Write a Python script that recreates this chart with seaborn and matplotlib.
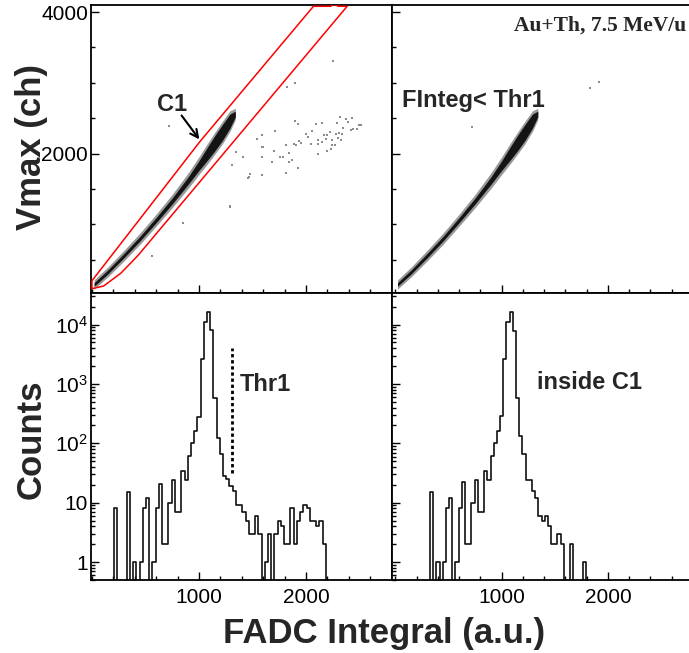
import numpy as np
import pandas as pd
import matplotlib
matplotlib.use("Agg")
import matplotlib.pyplot as plt
import seaborn as sns
from matplotlib.ticker import FixedLocator, FixedFormatter, MultipleLocator, NullFormatter

# ---------------- data ----------------
bin_start = 25
bin_width = 30
counts_all = [0, 0, 0, 0, 0, 0, 8, 0, 0, 0, 15, 0, 1, 0, 1, 8, 12, 0, 1, 8,
              21, 2, 2, 10, 24, 7, 7, 34, 24, 62, 100, 163, 278, 2600, 11200, 16500, 8000, 580, 125, 65,
              28, 25, 19, 16, 9, 9, 7, 5, 3, 3, 6, 3, 0, 1, 3, 0, 3, 5, 4, 2,
              2, 8, 2, 5, 7, 9, 8, 5, 5, 4, 5, 2, 0]
counts_c1 = [0, 0, 0, 0, 0, 0, 0, 0, 0, 0, 15, 0, 1, 0, 1, 8, 12, 0, 1, 8,
             22, 2, 2, 10, 24, 7, 7, 34, 24, 62, 100, 160, 290, 2600, 11000, 16500, 7800, 585, 132, 65,
             24, 24, 16, 12, 6, 5, 6, 4, 2, 2, 3, 2, 0, 0, 2, 0, 0, 0, 1, 0]

# dense band of events (FADC integral vs Vmax)
band_x = [20, 150, 300, 450, 600, 750, 900, 1000, 1080, 1150, 1220, 1290, 1340]
band_mid = [150, 330, 560, 800, 1060, 1330, 1620, 1830, 2000, 2150, 2300, 2460, 2560]
band_outer = [65, 70, 75, 80, 85, 95, 110, 125, 145, 155, 160, 145, 80]
band_core = [25, 28, 30, 32, 36, 42, 52, 68, 92, 108, 112, 98, 40]

# graphical cut C1
contour_x = [2070, 1009, 0, 0, 110, 270, 430, 2385, 2300, 2265, 2230, 2070]
contour_y = [4082, 2170, 203, 90, 130, 310, 560, 4082, 4082, 4110, 4082, 4082]

# isolated events
stray_all_x = [1893, 1921, 1715, 1593, 1547, 1603, 1697, 1687, 1590, 1481, 1462, 1593, 1410, 1347, 1312,
               1815, 1865, 1843, 1759, 1784, 1840, 1925, 1809, 1884, 1903, 1931, 1950, 1997, 2015, 2053,
               2043, 2109, 2115, 2109, 2150, 2150, 2097, 2169, 2197, 2190, 2221, 2244, 2277, 2275, 2287,
               2312, 2337, 2303, 2324, 2197, 2237, 2246, 2343, 2321, 2378, 2390, 2431, 2421, 2437, 2493,
               2512, 2478, 1291, 2253, 1893, 1822, 847, 557, 719, 1287, 1469, 1588]
stray_all_y = [2466, 2415, 2316, 2268, 2203, 2090, 2042, 1879, 1949, 1709, 1662, 1695, 1958, 2019, 1840,
               1728, 1906, 1883, 1949, 1949, 2005, 1794, 2127, 2137, 2123, 2184, 2146, 2274, 2231, 2325,
               2132, 2137, 1996, 2189, 2161, 2433, 2415, 2260, 2260, 2212, 2311, 2193, 2283, 2123, 2433,
               2288, 2274, 2217, 2189, 2042, 2062, 2123, 2363, 2513, 2485, 2447, 2499, 2334, 2348, 2400,
               2400, 2348, 1252, 3304, 2994, 2937, 1026, 556, 2391, 1262, 1675, 2099]
stray_cut_x = [1831, 1920, 718]
stray_cut_y = [2923, 3016, 2381]

thr1_x = 1306
thr1_span = [32, 4000]

xticks_major = [1000, 2000]
vmax_ticks = [2000, 4000]
count_ticks = [1, 10, 100, 1000, 10000]
count_labels = ["1", "10", "$10^{2}$", "$10^{3}$", "$10^{4}$"]

# ---------------- style ----------------
sns.set_theme(style="ticks")
plt.rcParams["font.family"] = ["Liberation Sans", "DejaVu Sans"]
plt.rcParams["mathtext.default"] = "regular"
plt.rcParams["axes.edgecolor"] = "black"
plt.rcParams["axes.linewidth"] = 1.3

W, H = 689, 653
fig = plt.figure(figsize=(W / 100, H / 100), dpi=100)


def rect(l, t, r, b):
    return [l / W, 1 - b / H, (r - l) / W, (b - t) / H]


ax_tl = fig.add_axes(rect(91, 5, 392, 293))
ax_tr = fig.add_axes(rect(392, 5, 690, 293))
ax_bl = fig.add_axes(rect(91, 293, 392, 580))
ax_br = fig.add_axes(rect(392, 293, 690, 580))

n_bins = max(len(counts_all), len(counts_c1))
edges = [bin_start + bin_width * i for i in range(n_bins + 1)]


def draw_hist(ax, counts):
    e = edges[: len(counts) + 1]
    centers = [0.5 * (e[i] + e[i + 1]) for i in range(len(counts))]
    df = pd.DataFrame({"x": centers, "w": [float(c) for c in counts]})
    sns.histplot(data=df, x="x", weights="w", bins=len(counts), binrange=(e[0], e[-1]),
                 element="step", fill=False, color="#111111", linewidth=1.2, ax=ax)
    ax.set_yscale("log", nonpositive="clip")
    ax.set_ylim(0.5, 3.4e4)


def draw_band(ax):
    bx = np.asarray(band_x, float)
    bm = np.asarray(band_mid, float)
    bo = np.asarray(band_outer, float)
    bc = np.asarray(band_core, float)
    ax.fill_between(bx, bm - bo, bm + bo, color="0.6", lw=0, zorder=2)
    ax.fill_between(bx, bm - bc, bm + bc, color="0.08", lw=0, zorder=3)


# top-left: all events with cut
draw_band(ax_tl)
sns.scatterplot(x=stray_all_x, y=stray_all_y, ax=ax_tl, s=1.6, color="0.55", linewidth=0, marker="s", zorder=2)
ax_tl.plot(contour_x, contour_y, color="red", lw=1.1, zorder=4, clip_on=True)
ax_tl.text(605, 2600, "C1", fontsize=17, fontweight="bold", ha="left", va="baseline")
ax_tl.annotate("", xy=(1019, 2170), xytext=(822, 2570),
               arrowprops=dict(arrowstyle="->", color="black", lw=1.5, mutation_scale=14))

# top-right: FInteg < Thr1
draw_band(ax_tr)
sns.scatterplot(x=stray_cut_x, y=stray_cut_y, ax=ax_tr, s=1.6, color="0.55", linewidth=0, marker="s", zorder=2)
ax_tr.text(59, 2663, "FInteg< Thr1", fontsize=17, fontweight="bold", ha="left", va="baseline")
ax_tr.text(2740, 3740, "Au+Th, 7.5 MeV/u", fontsize=15.5, fontweight="bold",
           family=["Liberation Serif", "DejaVu Serif"], ha="right", va="baseline")

# bottom: histograms
draw_hist(ax_bl, counts_all)
draw_hist(ax_br, counts_c1)
ax_bl.plot([thr1_x, thr1_x], thr1_span, color="black", lw=2.0, ls=(0, (1.2, 1.0)))
ax_bl.text(1383, 760, "Thr1", fontsize=17, fontweight="bold", ha="left", va="baseline")
ax_br.text(1329, 810, "inside C1", fontsize=17, fontweight="bold", ha="left", va="baseline")

# ---------------- axes ----------------
for ax in (ax_tl, ax_bl):
    ax.set_xlim(-9, 2804)
for ax in (ax_tr, ax_br):
    ax.set_xlim(-32, 2772)
for ax in (ax_tl, ax_tr):
    ax.set_ylim(30, 4100)
    ax.yaxis.set_major_locator(FixedLocator(vmax_ticks))
    ax.yaxis.set_minor_locator(MultipleLocator(500))

for ax in (ax_tl, ax_tr, ax_bl, ax_br):
    ax.xaxis.set_major_locator(FixedLocator(xticks_major))
    ax.xaxis.set_minor_locator(MultipleLocator(200))
    ax.tick_params(which="both", direction="in", top=False, right=False, width=1.0, colors="black",
                   labelsize=15)
    ax.tick_params(which="major", length=6)
    ax.tick_params(which="minor", length=3)
    ax.tick_params(axis="x", pad=6)
    ax.tick_params(axis="y", pad=2)
    ax.set_xlabel("")
    ax.set_ylabel("")
    for s in ax.spines.values():
        s.set_linewidth(1.3)
        s.set_color("black")

for ax in (ax_bl, ax_br):
    ax.yaxis.set_major_locator(FixedLocator(count_ticks))
    ax.yaxis.set_major_formatter(FixedFormatter(count_labels))
    ax.yaxis.set_minor_locator(FixedLocator([m * 10 ** d for d in range(-1, 5) for m in range(2, 10)]))
    ax.yaxis.set_minor_formatter(NullFormatter())

ax_tl.tick_params(labelbottom=False)
ax_tr.tick_params(labelbottom=False, labelleft=False)
ax_br.tick_params(labelleft=False)
for ax in (ax_tr, ax_br):
    ax.spines["right"].set_visible(False)

fig.text(31.5 / W, 1 - 147 / H, "Vmax (ch)", rotation=90, fontsize=25, fontweight="bold",
         ha="center", va="center")
fig.text(31.5 / W, 1 - 439 / H, "Counts", rotation=90, fontsize=25, fontweight="bold",
         ha="center", va="center")
fig.text(384 / W, 1 - 643 / H, "FADC Integral (a.u.)", fontsize=25, fontweight="bold",
         ha="center", va="baseline")

fig.savefig("out.png", dpi=100, facecolor="white")
